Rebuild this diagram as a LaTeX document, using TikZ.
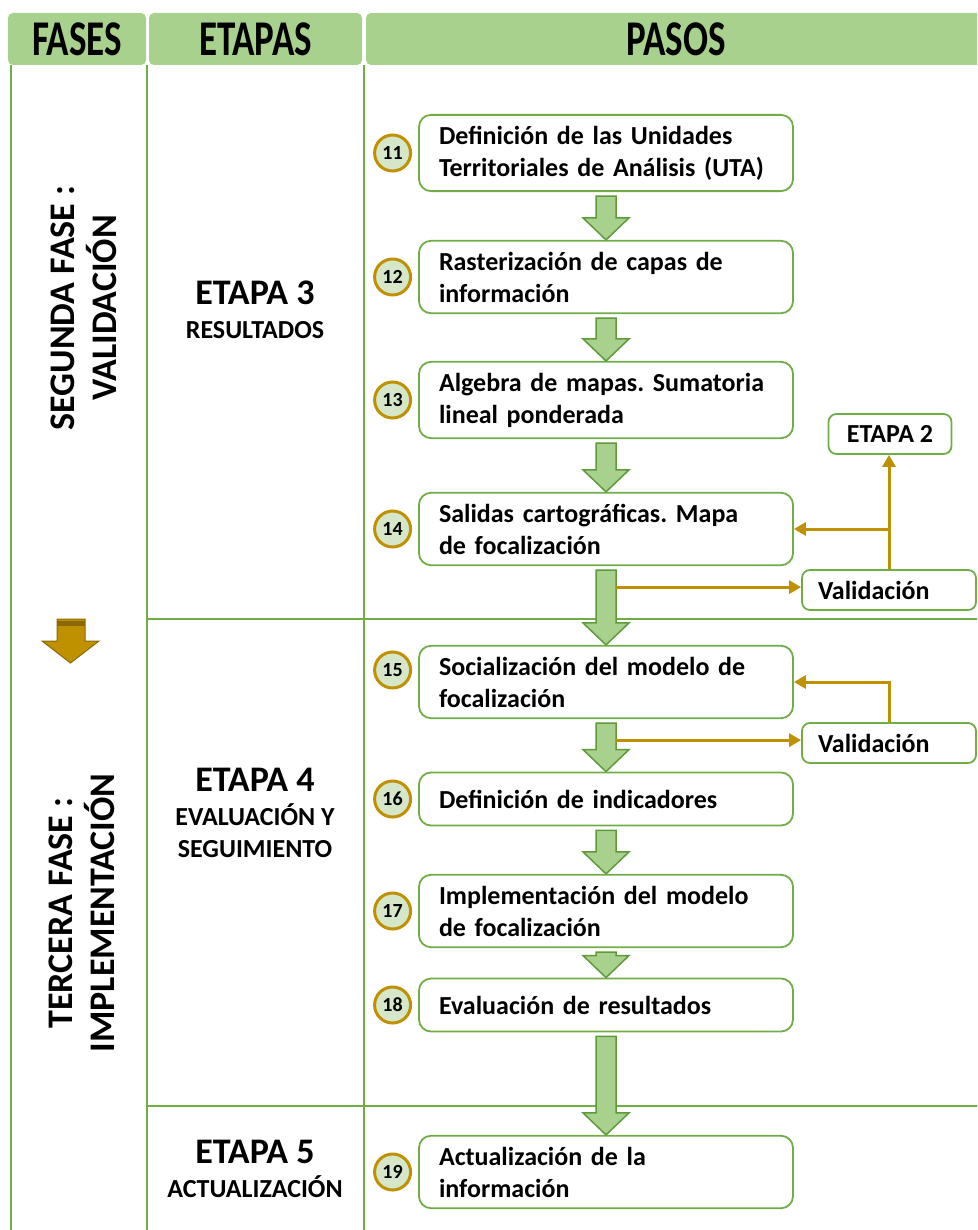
\documentclass[tikz,border=0pt]{standalone}
\usepackage{fontspec}
\setmainfont{Carlito}
\newfontfamily\headfont[FakeStretch=0.74]{Carlito}
\usetikzlibrary{positioning,calc,arrows.meta}

\definecolor{headgreen}{HTML}{A9D18E}
\definecolor{rulegreen}{HTML}{70AD47}
\definecolor{arrowgreen}{HTML}{5E9A3A}
\definecolor{gold}{HTML}{BF9000}
\definecolor{darkgold}{HTML}{8A6A00}
\definecolor{dotfill}{HTML}{D6E6C9}

% block arrow from one step to the next
\newcommand\steparrow[2]{%
	\path[blockarrow] ($(#1.south)+(-10,4)$) -- ($(#1.south)+(10,4)$)
		-- ($(#2.north)+(10,-22)$) -- ($(#2.north)+(23,-22)$) -- (#2.north)
		-- ($(#2.north)+(-23,-22)$) -- ($(#2.north)+(-10,-22)$) -- cycle;}

\begin{document}
\begin{tikzpicture}[x=1pt,y=-1pt,
	headcell/.style={fill=headgreen,rounded corners=5pt,minimum height=52pt,inner sep=0pt,
		font=\headfont\fontsize{50}{50}\selectfont\bfseries},
	rule/.style={draw=rulegreen,line width=2.5pt},
	stepbox/.style={draw=rulegreen,line width=1.8pt,fill=white,rounded corners=12pt,
		text width=334pt,align=left,inner xsep=20pt,inner ysep=11pt,minimum height=53pt,
		font=\fontsize{26}{32}\selectfont\bfseries\frenchspacing},
	numdot/.style={circle,draw=gold,line width=3pt,fill=dotfill,minimum size=36pt,inner sep=0pt,
		font=\fontsize{20}{20}\selectfont\bfseries},
	sidebox/.style={draw=rulegreen,line width=1.8pt,fill=white,rounded corners=8pt,
		minimum height=40pt,font=\fontsize{26}{32}\selectfont\bfseries},
	blockarrow/.style={draw=arrowgreen,fill=headgreen,line width=1.5pt},
	goldline/.style={draw=gold,line width=3pt,-{Triangle[length=12pt,width=13pt]}},
	fasetext/.style={rotate=90,align=center,font=\fontsize{36}{42}\selectfont\bfseries},
	etapa/.style={anchor=base,inner sep=0pt,font=\fontsize{36}{36}\selectfont\bfseries},
	etapasub/.style={anchor=base,inner sep=0pt,font=\fontsize{26}{32}\selectfont\bfseries}]

\useasboundingbox (0,0) rectangle (977,1230);
\clip (0,0) rectangle (977,1230);

% header
\node[headcell,minimum width=138pt] (hfases) at (77,39) {FASES};
\node[headcell,minimum width=213pt] (hetapas) at (255.5,39) {ETAPAS};
\node[headcell,minimum width=620pt] (hpasos) at (676,39) {PASOS};

% table rules
\draw[rule] (11,65) -- (11,1235);
\draw[rule] (147,65) -- (147,1235);
\draw[rule] (364,65) -- (364,1235);
\draw[rule] (147,619) -- (980,619);
\draw[rule] (147,1106) -- (980,1106);

% fases
\node[fasetext] (f2) at (84,308) {SEGUNDA FASE :\\VALIDACIÓN};
\node[fasetext] (f3) at (82,913) {TERCERA FASE :\\IMPLEMENTACIÓN};
\path[fill=gold,draw=darkgold,line width=1pt] (57,619) -- (85,619) -- (85,641) -- (99,641)
	-- (70.5,663) -- (42,641) -- (57,641) -- cycle;
\fill[darkgold] (57,621) rectangle (85,626);

% etapas
\node[etapa] (e3) at (255,305) {ETAPA 3};
\node[etapasub] (e3s) at ($(e3.base)+(0,33)$) {RESULTADOS};
\node[etapa] (e4) at (255,791) {ETAPA 4};
\node[etapasub] (e4s) at ($(e4.base)+(0,34)$) {EVALUACIÓN Y};
\node[etapasub] (e4t) at ($(e4s.base)+(0,32)$) {SEGUIMIENTO};
\node[etapa] (e5) at (255,1163) {ETAPA 5};
\node[etapasub] (e5s) at ($(e5.base)+(0,34)$) {ACTUALIZACIÓN};

% pasos
\node[stepbox] (p11) at (606,153) {Definición de las Unidades\\Territoriales de Análisis (UTA)};
\node[stepbox] (p12) at (606,277) {Rasterización de capas de\\información};
\node[stepbox] (p13) at (606,400) {Algebra de mapas. Sumatoria\\lineal ponderada};
\node[stepbox] (p14) at (606,529) {Salidas cartográficas. Mapa\\de focalización};
\node[stepbox] (p15) at (606,682) {Socialización del modelo de\\focalización};
\node[stepbox] (p16) at (606,799) {Definición de indicadores};
\node[stepbox] (p17) at (606,911) {Implementación del modelo\\de focalización};
\node[stepbox] (p18) at (606,1005) {Evaluación de resultados};
\node[stepbox] (p19) at (606,1172) {Actualización de la\\información};

\node[numdot,left=6pt of p11] (n11) {11};
\node[numdot,left=6pt of p12] (n12) {12};
\node[numdot,left=6pt of p13] (n13) {13};
\node[numdot,left=6pt of p14] (n14) {14};
\node[numdot,left=6pt of p15,yshift=12pt] (n15) {15};
\node[numdot,left=6pt of p16] (n16) {16};
\node[numdot,left=6pt of p17] (n17) {17};
\node[numdot,left=6pt of p18] (n18) {18};
\node[numdot,left=6pt of p19] (n19) {19};

\steparrow{p11}{p12}
\steparrow{p12}{p13}
\steparrow{p13}{p14}
\steparrow{p14}{p15}
\steparrow{p15}{p16}
\steparrow{p16}{p17}
\steparrow{p17}{p18}
\steparrow{p18}{p19}

% validacion
\node[sidebox,minimum width=123pt] (et2) at (890,434) {ETAPA 2};
\node[sidebox,text width=142pt,align=left,inner xsep=16pt] (val1) at (889,590) {Validación};
\node[sidebox,text width=142pt,align=left,inner xsep=16pt] (val2) at (889,743) {Validación};

\coordinate (v1) at ($(p14.south)+(10,21)$);
\coordinate (v2) at ($(p15.south)+(10,21)$);
\draw[goldline] (v1) -- (v1 -| val1.west);
\draw[goldline] (val1.north) -- (val1.north |- et2.south);
\draw[goldline] (val1.north |- p14.east) -- (p14.east);
\draw[goldline] (v2) -- (v2 -| val2.west);
\draw[goldline] (val2.north) |- (p15.east);
\end{tikzpicture}
\end{document}
